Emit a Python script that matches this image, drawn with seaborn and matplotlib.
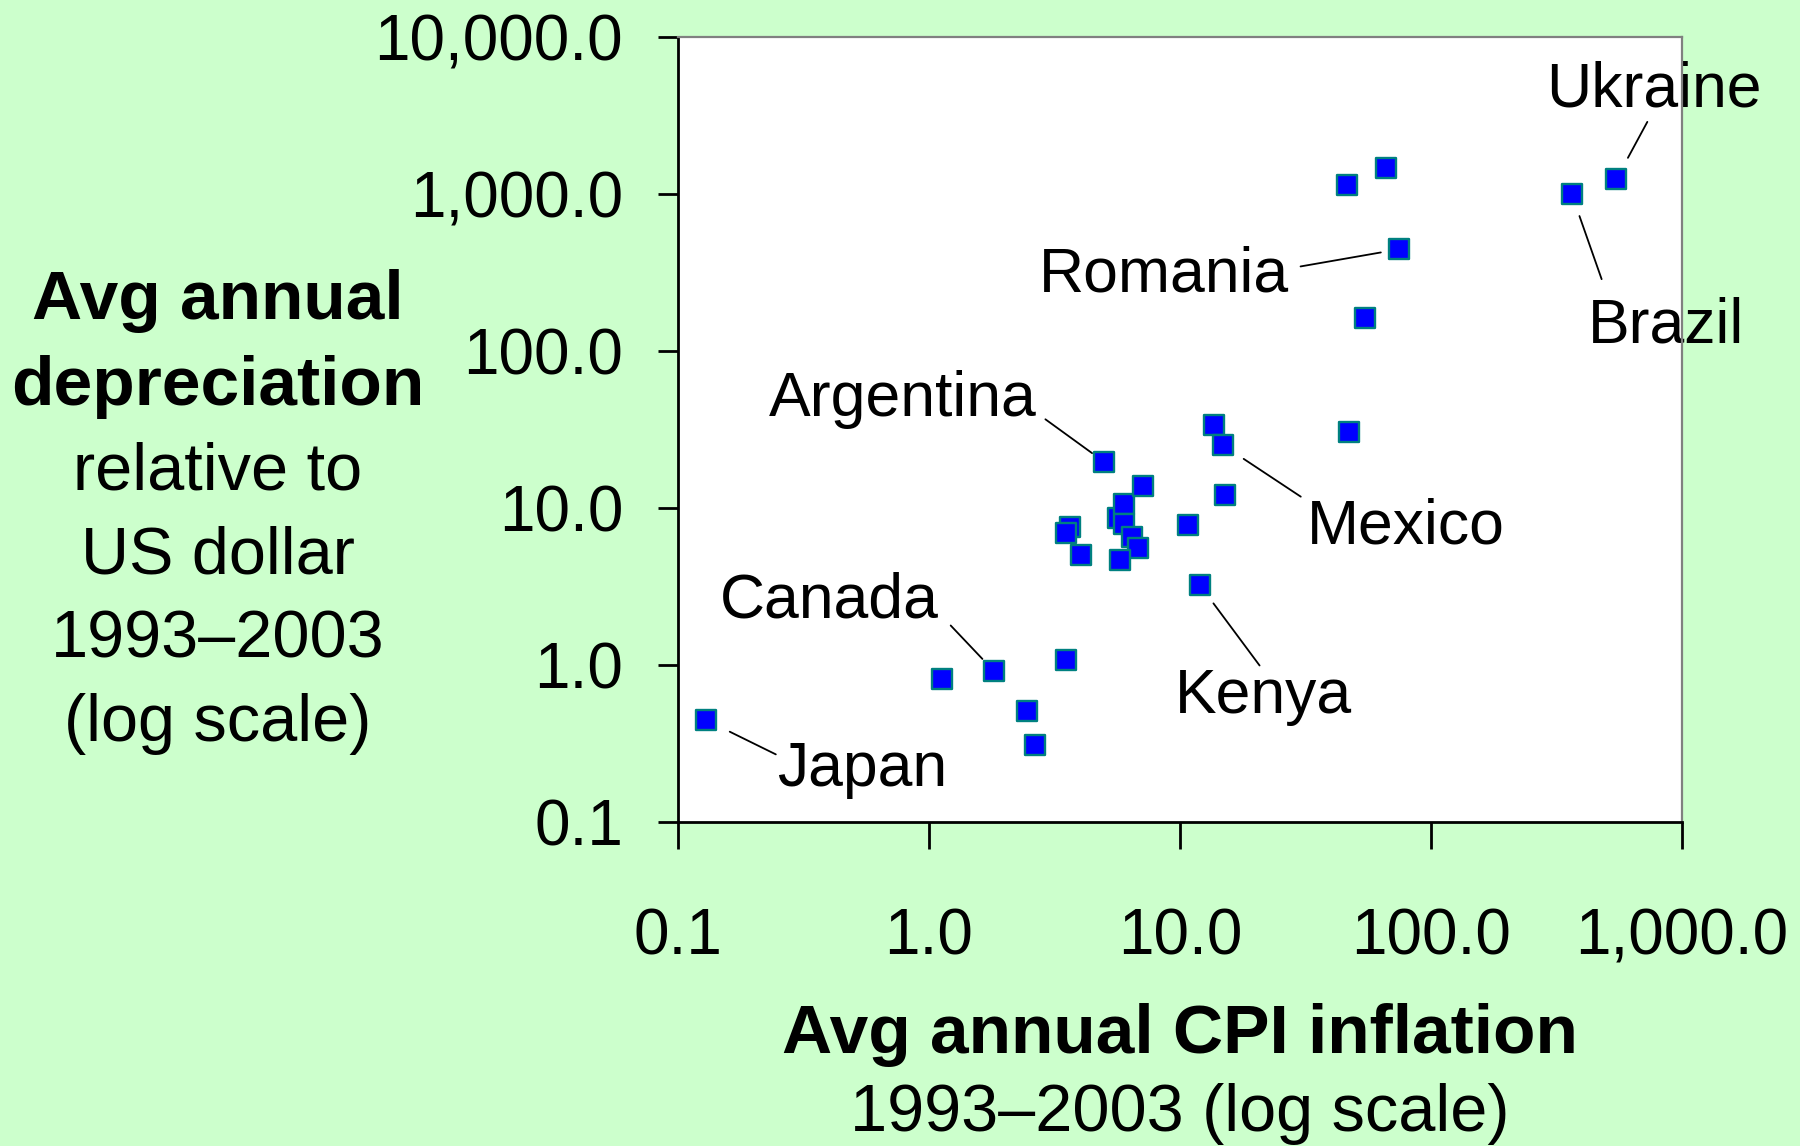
import matplotlib
matplotlib.use("Agg")
import matplotlib.pyplot as plt
import matplotlib.ticker as mticker
import pandas as pd
import seaborn as sns

# Avg annual CPI inflation, 1993-2003 (%)
inflation = [0.129, 1.13, 1.82, 2.46, 2.65, 3.52, 3.64, 3.52, 4.04, 4.98,
             5.66, 5.97, 5.97, 6.43, 6.78, 5.78, 7.13, 10.8, 12.0, 13.6,
             14.8, 15.1, 46.1, 65.9, 74.8, 54.6, 47.1, 364.0, 548.0]
# Avg annual depreciation relative to US dollar, 1993-2003 (%)
depreciation = [0.447, 0.82, 0.91, 0.51, 0.31, 1.07, 7.57, 6.95, 5.01, 19.7,
                8.65, 10.6, 7.96, 6.5, 5.58, 4.64, 13.8, 7.8, 3.23, 33.8,
                25.2, 12.1, 1140, 1470, 445, 162, 30.6, 998, 1242]
country = ["Japan", "", "Canada", "", "", "", "", "", "", "Argentina",
           "", "", "", "", "", "", "", "", "Kenya", "",
           "Mexico", "", "", "", "Romania", "", "", "Brazil", "Ukraine"]

x_ticks = [0.1, 1, 10, 100, 1000]
y_ticks = [0.1, 1, 10, 100, 1000, 10000]

# label placement (points): text offset, alignment, leader start offset, gap at marker
label_style = {
    "Japan":     ((51.3, -47.9), "left",  (50.4, -24.8), 19.2),
    "Canada":    ((-39.7, 38.9), "right", (-31.4, 33.1), 12.4),
    "Argentina": ((-48.8, 33.1), "right", (-42.2, 30.6), 10.6),
    "Romania":   ((-79.4, -30.6), "right", (-71.1, -12.4), 13.5),
    "Mexico":    ((60.3, -71.1), "left",  (56.2, -37.2), 18.1),
    "Kenya":     ((-18.2, -91.8), "left", (43.0, -57.9), 16.4),
    "Brazil":    ((11.6, -106.6), "left", (21.5, -61.2), 16.7),
    "Ukraine":   ((-50.4, 52.5), "left",  (22.3, 41.3), 17.5),
}

df = pd.DataFrame({"inflation": inflation, "depreciation": depreciation,
                   "country": country})

sns.set_theme(style="white")
plt.rcParams["font.family"] = ["Liberation Sans", "DejaVu Sans"]
plt.rcParams["text.color"] = "black"

bg = "#CCFFCC"
fig = plt.figure(figsize=(18, 11.46), dpi=100, facecolor=bg)
ax = fig.add_axes([0.3767, 0.2827, 0.5577, 0.6850])
ax.set_facecolor("white")

sns.scatterplot(data=df, x="inflation", y="depreciation", ax=ax,
                marker="s", s=210, color="#0000FF", edgecolor="#008080",
                linewidth=1.7, zorder=3, clip_on=False)

ax.set_xscale("log")
ax.set_yscale("log")
ax.set_xlim(0.1, 1000)
ax.set_ylim(0.1, 10000)
ax.set_xticks(x_ticks)
ax.set_yticks(y_ticks)
ax.xaxis.set_minor_locator(mticker.NullLocator())
ax.yaxis.set_minor_locator(mticker.NullLocator())
fmt = mticker.FuncFormatter(lambda v, p: f"{v:,.1f}")
ax.xaxis.set_major_formatter(fmt)
ax.yaxis.set_major_formatter(fmt)
ax.set_xlabel("")
ax.set_ylabel("")

ax.tick_params(axis="x", direction="out", length=19.5, width=2, colors="black",
               labelsize=46, pad=42, bottom=True)
ax.tick_params(axis="y", direction="out", length=14.5, width=2, colors="black",
               labelsize=46, pad=25, left=True)

for side in ["left", "bottom"]:
    ax.spines[side].set_color("black")
    ax.spines[side].set_linewidth(2)
for side in ["top", "right"]:
    ax.spines[side].set_color("#808080")
    ax.spines[side].set_linewidth(1.6)

# country labels with leader lines
for _, row in df[df["country"] != ""].iterrows():
    off, ha, lead, gap = label_style[row["country"]]
    ax.annotate(row["country"], xy=(row["inflation"], row["depreciation"]),
                xytext=off, textcoords="offset points", ha=ha, va="baseline",
                fontsize=45, color="black", zorder=2, annotation_clip=False)
    ax.annotate("", xy=(row["inflation"], row["depreciation"]),
                xytext=lead, textcoords="offset points", zorder=2,
                annotation_clip=False,
                arrowprops=dict(arrowstyle="-", color="black", lw=1.3,
                                shrinkA=0, shrinkB=gap))

# y axis title, stacked lines
ylines = [("Avg annual", "bold", 319), ("depreciation", "bold", 405),
          ("relative to", "normal", 490), ("US dollar", "normal", 574),
          ("1993\u20132003", "normal", 658), ("(log scale)", "normal", 741)]
for txt, weight, ypx in ylines:
    size = 50 if weight == "bold" else 48
    fig.text(218 / 1800, 1 - ypx / 1146, txt, ha="center", va="baseline",
             fontsize=size, fontweight=weight, color="black")

# x axis title
fig.text(1180 / 1800, 1 - 1053 / 1146, "Avg annual CPI inflation",
         ha="center", va="baseline", fontsize=50, fontweight="bold",
         color="black")
fig.text(1180 / 1800, 1 - 1131 / 1146, "1993\u20132003 (log scale)",
         ha="center", va="baseline", fontsize=48, color="black")

fig.savefig("out.png", dpi=100, facecolor=bg)
